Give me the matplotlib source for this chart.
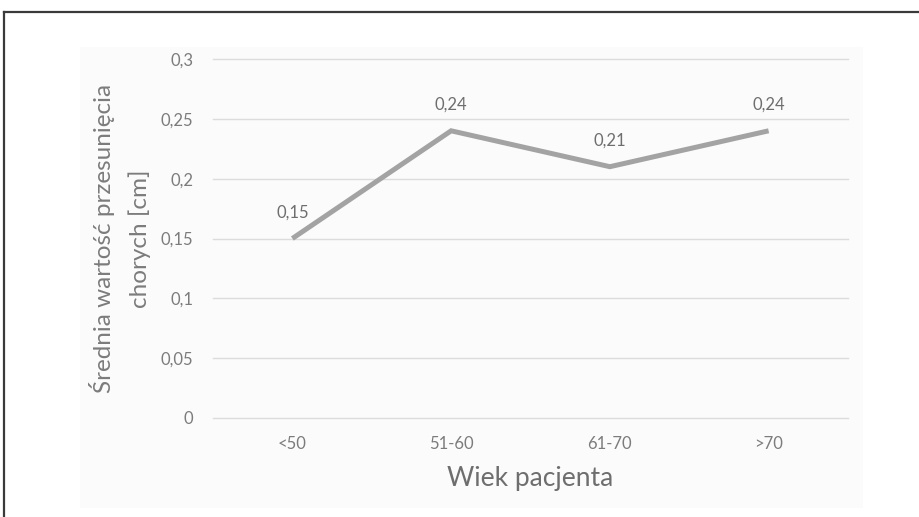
import matplotlib
matplotlib.use("Agg")
import matplotlib.pyplot as plt
from matplotlib.patches import Rectangle
from matplotlib.lines import Line2D

categories = ["<50", "51-60", "61-70", ">70"]
values = [0.15, 0.24, 0.21, 0.24]
value_labels = ["0,15", "0,24", "0,21", "0,24"]
yticks = [0, 0.05, 0.1, 0.15, 0.2, 0.25, 0.3]
ytick_labels = ["0", "0,05", "0,1", "0,15", "0,2", "0,25", "0,3"]

plt.rcParams["font.family"] = ["Lato", "DejaVu Sans"]

W, H = 919, 517
fig = plt.figure(figsize=(W / 100, H / 100), dpi=100)
fig.patch.set_facecolor("white")

# faint chart panel
fig.patches.append(Rectangle((80 / W, 1 - 508 / H), (863 - 80) / W, (508 - 47) / H,
                             transform=fig.transFigure, facecolor="#fbfbfb",
                             edgecolor="none", zorder=-5))
# frame lines (top and left)
fig.lines.append(Line2D([4 / W, 1], [1 - 12 / H, 1 - 12 / H], transform=fig.transFigure,
                        color="#3a3a3a", linewidth=1.6, zorder=-4))
fig.lines.append(Line2D([4 / W, 4 / W], [0, 1 - 12 / H], transform=fig.transFigure,
                        color="#3a3a3a", linewidth=1.6, zorder=-4))

ax = fig.add_axes([213 / W, 1 - 418 / H, (848 - 213) / W, (418 - 59) / H])
ax.set_zorder(2)
ax.set_facecolor("none")
x = list(range(len(categories)))
ax.plot(x, values, color="#a3a3a3", linewidth=3.6, solid_joinstyle="miter",
        solid_capstyle="butt", zorder=3)
for xi, v, lab in zip(x, values, value_labels):
    ax.annotate(lab, (xi, v), xytext=(0, 13), textcoords="offset points",
                ha="center", va="bottom", fontsize=12, color="#6e6e6e")

ax.set_xlim(-0.5, len(categories) - 0.5)
ax.set_ylim(0, 0.3)
ax.set_yticks(yticks)
ax.set_yticklabels(ytick_labels)
ax.set_xticks(x)
ax.set_xticklabels(categories)
ax.tick_params(axis="both", length=0, labelsize=12, colors="#7c7c7c")
ax.tick_params(axis="y", pad=14)
ax.tick_params(axis="x", pad=13)
ax.grid(axis="y", color="#dcdcdc", linewidth=1.0, clip_on=False)
ax.set_axisbelow(True)
for s in ax.spines.values():
    s.set_visible(False)

ax.set_xlabel("Wiek pacjenta", fontsize=19, color="#6e6e6e", labelpad=10)
ax.set_ylabel("Średnia wartość przesunięcia\nchorych [cm]", fontsize=17.5,
              color="#7c7c7c", labelpad=7, linespacing=1.75)

fig.savefig("out.png", dpi=100, facecolor="white")
